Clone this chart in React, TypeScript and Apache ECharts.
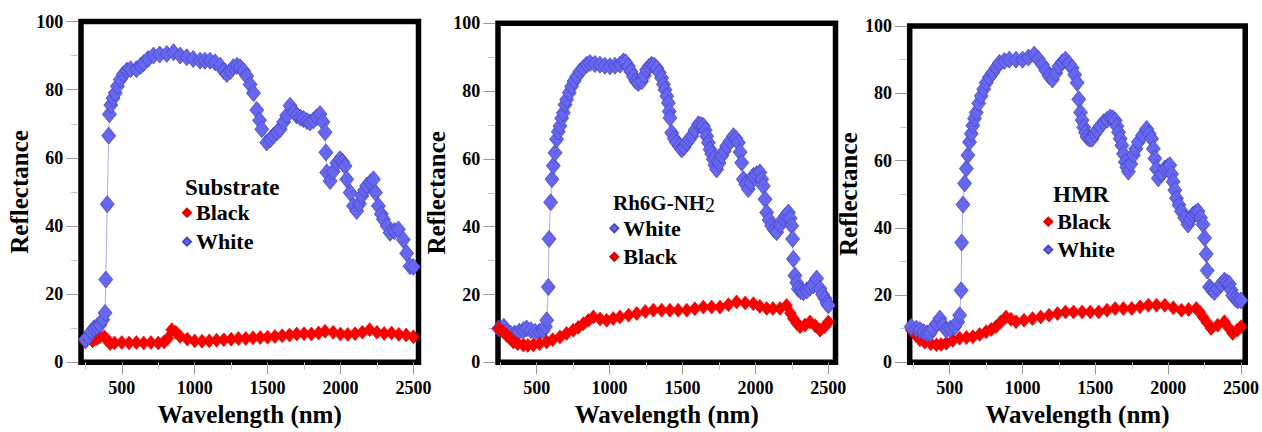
import React, { useEffect, useRef } from "react";
import * as echarts from "echarts";

// ---------- DATA ----------
const panelTitles = ["Substrate", "Rh6G-NH", "HMR"];
const titleSub = "2";
const xMajorTicks = [500, 1000, 1500, 2000, 2500];
const yAxisName = "Reflectance";
const xAxisName = "Wavelength (nm)";

// Panel 1 – Substrate
const subWhiteNm = [250, 270, 290, 310, 330, 350, 370, 385, 390, 400, 410, 415, 425, 440, 455, 470, 490, 510, 535, 560, 600, 630, 650, 680, 717, 760, 808, 855, 900, 945, 990, 1037, 1070, 1105, 1140, 1175, 1200, 1220, 1245, 1265, 1290, 1311, 1335, 1357, 1380, 1403, 1426, 1445, 1460, 1494, 1520, 1540, 1565, 1586, 1610, 1631, 1654, 1680, 1700, 1725, 1746, 1770, 1791, 1815, 1837, 1860, 1880, 1894, 1900, 1906, 1929, 1950, 1975, 1997, 2015, 2031, 2043, 2066, 2089, 2111, 2130, 2146, 2165, 2180, 2205, 2226, 2240, 2260, 2280, 2294, 2320, 2340, 2370, 2397, 2431, 2454, 2477, 2500];
const subWhiteR = [6.7, 7.5, 9, 10, 10.5, 11, 12.5, 14.5, 24.3, 46.4, 66.5, 72.8, 75.5, 77.5, 79, 81, 83, 84.5, 85.6, 86, 86, 87, 87.8, 89, 90, 90.3, 90.5, 91, 90, 89.5, 89, 88.5, 88.5, 88.5, 88, 87, 85.5, 84.6, 85.5, 86.6, 87, 86.6, 85.5, 84, 81.5, 79, 74, 71, 68.4, 64.5, 65.5, 66.5, 67.5, 68.4, 70.5, 72.4, 75.3, 73.5, 72.4, 71.8, 71.4, 70.8, 70.4, 71, 71.9, 72.8, 70.5, 67.5, 61.6, 55.7, 53.2, 56, 58.5, 59.6, 58.8, 57.6, 53.7, 49.8, 45.9, 44.4, 46.5, 48.8, 50.5, 51.8, 52.8, 53.7, 49.8, 45.9, 43.5, 42, 40, 38, 38.5, 39, 36, 32, 28.2, 28];
const subBlackNm = [250, 300, 330, 350, 380, 400, 420, 450, 500, 550, 600, 650, 700, 750, 790, 815, 843, 870, 900, 950, 1000, 1050, 1100, 1150, 1200, 1250, 1300, 1350, 1400, 1450, 1500, 1550, 1600, 1650, 1700, 1750, 1800, 1850, 1894, 1950, 2000, 2050, 2100, 2150, 2200, 2250, 2300, 2350, 2400, 2450, 2500];
const subBlackR = [6, 6.3, 7, 7.5, 7.5, 6.5, 5.5, 5.7, 5.8, 5.7, 5.8, 5.7, 5.8, 5.7, 6, 7, 9.6, 8.8, 7.6, 6.8, 6.3, 6.2, 6.3, 6.5, 6.6, 6.8, 7, 7, 7.2, 7.3, 7.4, 7.6, 7.8, 8, 8.3, 8.4, 8.3, 8.6, 9.1, 8.8, 8.3, 8.2, 8.4, 8.8, 9.6, 8.8, 8.5, 8.6, 8.2, 8, 7.5];

// Panel 2 – Rh6G-NH2
const rhWhiteNm = [240, 275, 294, 320, 350, 380, 410, 431, 460, 490, 520, 545, 560, 569, 580, 585, 596, 605, 614, 626, 637, 648, 660, 672, 683, 695, 706, 723, 740, 757, 774, 797, 820, 843, 866, 900, 934, 968, 1003, 1037, 1071, 1094, 1110, 1129, 1146, 1163, 1180, 1197, 1220, 1237, 1254, 1271, 1289, 1306, 1323, 1340, 1357, 1369, 1380, 1392, 1403, 1409, 1414, 1426, 1443, 1460, 1477, 1494, 1512, 1529, 1546, 1563, 1586, 1609, 1626, 1643, 1655, 1666, 1677, 1689, 1700, 1711, 1722, 1734, 1751, 1769, 1786, 1803, 1826, 1849, 1866, 1883, 1895, 1906, 1917, 1934, 1951, 1968, 1986, 2008, 2031, 2043, 2054, 2066, 2077, 2094, 2111, 2128, 2146, 2169, 2191, 2208, 2226, 2238, 2249, 2255, 2260, 2271, 2283, 2294, 2312, 2329, 2352, 2374, 2397, 2420, 2443, 2460, 2477, 2490, 2500];
const rhWhiteR = [10, 10.5, 9, 8.5, 8.5, 9, 9.5, 10, 9.5, 9, 9, 9.5, 10.5, 12.4, 22.2, 36.4, 47.2, 54, 58, 61.8, 65.8, 68, 69.7, 72, 73.6, 76, 77.5, 79.5, 81.4, 83, 84.3, 85.8, 86.8, 87.8, 88.3, 88, 87.8, 87.5, 87.3, 87.5, 87.8, 88.7, 88.5, 87.3, 85.8, 84.3, 83, 82.4, 82.9, 84.5, 86.3, 87.2, 87.8, 87.5, 86.8, 85.5, 83.9, 82, 80.4, 78.5, 76.5, 74, 72.1, 67.7, 66, 64.8, 63.8, 62.8, 63.5, 64.8, 65.8, 66.7, 68.5, 70.2, 70, 69.7, 68.5, 66.7, 64.8, 62.8, 61.5, 59.9, 58.2, 56.9, 58.8, 60.9, 62.3, 63.8, 65.2, 66.7, 66, 64.8, 62, 58.9, 54, 52.5, 51.1, 53, 55, 55.5, 56, 54, 52, 48.1, 44.2, 42, 40.3, 39.2, 38.4, 40.5, 42.3, 43.3, 44.2, 42.5, 40.3, 36.4, 30.5, 25.6, 23.5, 21.7, 21, 20.7, 21.2, 22, 22.7, 24.7, 21.7, 20, 18.8, 17.5, 16.8];
const rhBlackNm = [240, 270, 294, 320, 340, 370, 409, 440, 477, 520, 569, 610, 660, 705, 751, 785, 820, 855, 889, 935, 980, 1025, 1071, 1130, 1186, 1245, 1300, 1357, 1414, 1470, 1529, 1585, 1643, 1700, 1757, 1815, 1871, 1930, 1986, 2030, 2077, 2120, 2169, 2214, 2240, 2260, 2283, 2306, 2340, 2374, 2410, 2443, 2475, 2500];
const rhBlackR = [10, 9, 8, 7, 6, 5.5, 5.1, 5, 5.1, 5.5, 6, 6.7, 7.5, 8.5, 9.5, 10.3, 11.4, 12.4, 13.4, 12.8, 12.4, 12.9, 13.4, 13.9, 14.4, 15, 15.4, 15.4, 15.4, 15.4, 15.4, 15.8, 16.3, 16.3, 16.3, 17, 17.8, 17.5, 17.3, 16.5, 15.9, 15.9, 15.9, 16.8, 14.5, 12.9, 11.5, 10.5, 11, 11.9, 10.8, 9.5, 10.5, 11.9];

// Panel 3 – HMR
const hmrWhiteNm = [235, 270, 295, 320, 345, 364, 385, 410, 432, 455, 477, 505, 534, 555, 568, 578, 582, 591, 602, 614, 625, 636, 648, 659, 670, 682, 699, 716, 733, 750, 772, 795, 818, 841, 875, 909, 955, 1000, 1040, 1080, 1108, 1136, 1160, 1182, 1205, 1228, 1250, 1273, 1295, 1318, 1341, 1358, 1375, 1386, 1398, 1409, 1420, 1432, 1443, 1460, 1477, 1494, 1511, 1534, 1557, 1580, 1602, 1620, 1636, 1648, 1659, 1670, 1682, 1693, 1705, 1716, 1727, 1744, 1761, 1778, 1795, 1824, 1852, 1869, 1886, 1898, 1909, 1920, 1932, 1955, 1977, 1994, 2011, 2023, 2034, 2046, 2057, 2074, 2091, 2113, 2136, 2153, 2170, 2188, 2205, 2222, 2239, 2250, 2261, 2268, 2284, 2300, 2318, 2340, 2363, 2386, 2403, 2420, 2432, 2443, 2460, 2477, 2500];
const hmrWhiteR = [10.6, 10, 9.6, 9, 8.6, 8.6, 10, 11.5, 13, 11, 9.6, 10, 10.6, 12, 14, 21.4, 35.6, 46.9, 53.2, 57.6, 61.6, 65.5, 68, 70.4, 72.5, 74.3, 77, 79.2, 81.2, 83.1, 84.8, 86.1, 87.6, 89, 89.6, 90, 90, 90, 90.6, 91.5, 90.2, 88.5, 86.8, 85.1, 84.1, 86, 88, 89.2, 90, 88.8, 87.5, 85.5, 83.1, 78.2, 74.3, 72, 69.9, 68.3, 67, 66.5, 66.5, 67.8, 68.9, 70.2, 71.4, 72.1, 72.8, 72.5, 71.9, 70.2, 68.4, 66.5, 64.5, 62, 59.6, 58, 56.7, 59, 61.6, 63.5, 65.5, 67.5, 69.4, 68, 66.5, 63.5, 60.6, 57.5, 54.7, 56, 57.6, 58.1, 58.6, 56, 53.7, 51.2, 48.8, 46.8, 44.9, 43, 41, 42.5, 43.9, 44.4, 44.9, 43, 41, 37, 32.2, 27.3, 22.4, 21.6, 20.9, 22, 23.2, 24.3, 23.8, 23.3, 21.5, 19.9, 19, 18.4, 18.4];
const hmrBlackNm = [235, 270, 295, 330, 370, 409, 440, 477, 520, 568, 615, 659, 705, 750, 785, 818, 850, 886, 920, 955, 1010, 1068, 1125, 1182, 1240, 1295, 1350, 1409, 1465, 1523, 1580, 1636, 1693, 1750, 1807, 1864, 1920, 1977, 2035, 2091, 2140, 2193, 2216, 2239, 2267, 2295, 2340, 2386, 2415, 2443, 2475, 2500];
const hmrBlackR = [9.6, 8, 6.7, 6, 5.5, 5.2, 5.3, 5.7, 6.5, 7.2, 7.4, 7.6, 8.3, 9.1, 9.8, 10.6, 12, 13.5, 12.8, 12.1, 12.5, 13, 13.5, 14, 14.5, 15, 15, 15, 15, 15, 15.5, 16, 16, 16, 16.5, 17, 17, 17, 16.2, 15.5, 15.7, 16, 15, 13.5, 11.8, 10.1, 11, 12.1, 10.3, 8.6, 9.6, 10.6];

// ---------- STYLE / LAYOUT ----------
const FONT = "Liberation Serif";
const BOLD = 600;
const BORDER = 5.5;
const grids = [
  { left: 81, top: 21.5, width: 337.5, height: 341, xMin: 220, xMax: 2535 },
  { left: 498, top: 23.3, width: 337.5, height: 340.7, xMin: 235, xMax: 2549 },
  { left: 909.7, top: 26, width: 337.8, height: 340, xMin: 225, xMax: 2529 },
];
const legendPos = [
  { left: 177, top: 196.7, gap: 7, order: ["Black", "White"] },
  { left: 604.3, top: 212.3, gap: 6.5, order: ["White", "Black"] },
  { left: 1038.3, top: 205.7, gap: 6, order: ["Black", "White"] },
];

const zip = (xs: number[], ys: number[]) => xs.map((x, i) => [x, ys[i]]);

const whiteStyle = {
  symbol: "diamond",
  symbolSize: [14, 17],
  itemStyle: { color: "#6666ee", borderColor: "#4646c6", borderWidth: 0.8 },
  lineStyle: { color: "#8a8ae0", width: 0.7 },
};
const blackStyle = {
  symbol: "diamond",
  symbolSize: [12, 14],
  itemStyle: { color: "#ff0000", borderColor: "#d80000", borderWidth: 0.6 },
  lineStyle: { color: "#ff3030", width: 0.7 },
};

function mkSeries(name: string, gi: number, xs: number[], ys: number[]) {
  const st = name === "White" ? whiteStyle : blackStyle;
  return {
    type: "line",
    name,
    xAxisIndex: gi,
    yAxisIndex: gi,
    data: zip(xs, ys),
    showSymbol: true,
    showAllSymbol: true,
    symbol: st.symbol,
    symbolSize: st.symbolSize,
    itemStyle: st.itemStyle,
    lineStyle: st.lineStyle,
    clip: false,
    emphasis: { disabled: true },
  };
}

export default function App() {
  const ref = useRef<HTMLDivElement>(null);
  useEffect(() => {
    if (!ref.current) return;
    const chart = echarts.init(ref.current, undefined, { renderer: "svg" });
    const labelStyle = { fontFamily: FONT, fontWeight: BOLD, fontSize: 18, color: "#000" };
    const nameStyle = { fontFamily: FONT, fontWeight: BOLD, fontSize: 25, color: "#000" };
    const titleText = (x: number, y: number, text: string, size: number, weight: any) => ({
      type: "text",
      x,
      y,
      style: {
        text,
        fontFamily: FONT,
        fontSize: size,
        fontWeight: weight,
        fill: "#000",
        verticalAlign: "middle",
        align: "left",
      },
    });
    const option: any = {
      animation: false,
      backgroundColor: "#fff",
      textStyle: { fontFamily: FONT },
      grid: grids.map((g) => ({
        left: g.left,
        top: g.top,
        width: g.width,
        height: g.height,
        show: true,
        borderColor: "#000",
        borderWidth: BORDER,
        backgroundColor: "transparent",
      })),
      xAxis: grids.map((g, i) => ({
        type: "value",
        gridIndex: i,
        min: g.xMin,
        max: g.xMax,
        splitNumber: 5,
        offset: BORDER / 2,
        axisLine: { show: false },
        axisTick: { show: true, length: 12, customValues: xMajorTicks, lineStyle: { color: "#999", width: 1 } },
        minorTick: { show: true, splitNumber: 2, length: 7, lineStyle: { color: "#c4c4c4", width: 1 } },
        splitLine: { show: false },
        minorSplitLine: { show: false },
        axisLabel: {
          ...labelStyle,
          margin: 14,
          customValues: xMajorTicks,
          formatter: (v: number) => (v % 500 === 0 ? String(v) : ""),
        },
        name: xAxisName,
        nameLocation: "middle",
        nameGap: 36,
        nameTextStyle: nameStyle,
      })),
      yAxis: grids.map((g, i) => ({
        type: "value",
        gridIndex: i,
        min: 0,
        max: 100,
        interval: 20,
        offset: BORDER / 2,
        axisLine: { show: false },
        axisTick: { show: true, length: 12, lineStyle: { color: "#999", width: 1 } },
        minorTick: { show: true, splitNumber: 2, length: 7, lineStyle: { color: "#c4c4c4", width: 1 } },
        splitLine: { show: false },
        minorSplitLine: { show: false },
        axisLabel: { ...labelStyle, margin: 15 },
        name: yAxisName,
        nameLocation: "middle",
        nameGap: 46,
        nameTextStyle: nameStyle,
      })),
      legend: legendPos.map((l) => ({
        orient: "vertical",
        left: l.left,
        top: l.top,
        itemGap: l.gap,
        itemWidth: 8,
        itemHeight: 8,
        icon: "diamond",
        selectedMode: false,
        data: l.order,
        textStyle: { fontFamily: FONT, fontWeight: BOLD, fontSize: 22, color: "#000" },
      })),
      graphic: [
        titleText(185, 187.5, panelTitles[0], 23, BOLD),
        titleText(613, 202.5, panelTitles[1], 21, BOLD),
        titleText(705, 205, titleSub, 20, "normal"),
        titleText(1053, 194.5, panelTitles[2], 23, BOLD),
      ],
      series: [
        mkSeries("Black", 0, subBlackNm, subBlackR),
        mkSeries("White", 0, subWhiteNm, subWhiteR),
        mkSeries("White", 1, rhWhiteNm, rhWhiteR),
        mkSeries("Black", 1, rhBlackNm, rhBlackR),
        mkSeries("Black", 2, hmrBlackNm, hmrBlackR),
        mkSeries("White", 2, hmrWhiteNm, hmrWhiteR),
      ],
    };
    chart.setOption(option);
    return () => chart.dispose();
  }, []);
  return (
    <div
      ref={ref}
      style={{ position: "fixed", left: 0, top: 0, width: 1262, height: 432, background: "#fff" }}
    />
  );
}
